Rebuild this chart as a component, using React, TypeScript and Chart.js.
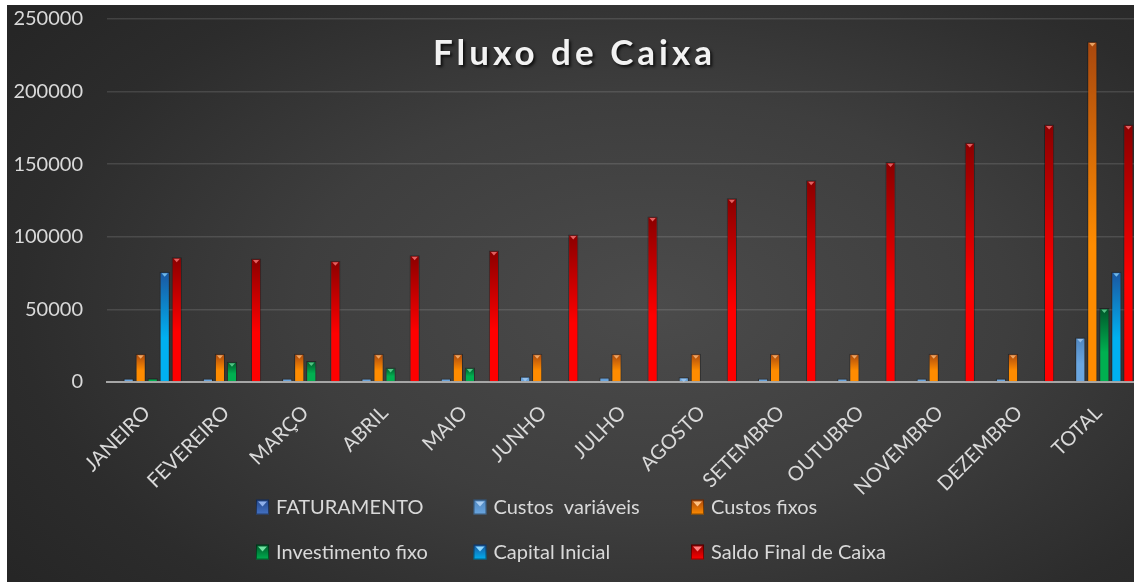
import React, { useEffect, useRef } from "react";
import { Chart, registerables } from "chart.js";

Chart.register(...registerables);

const chartTitle = "Fluxo de Caixa";

const categories = [
  "JANEIRO", "FEVEREIRO", "MARÇO", "ABRIL", "MAIO", "JUNHO", "JULHO",
  "AGOSTO", "SETEMBRO", "OUTUBRO", "NOVEMBRO", "DEZEMBRO", "TOTAL",
];

const seriesNames = [
  "FATURAMENTO", "Custos  variáveis", "Custos fixos",
  "Investimento fixo", "Capital Inicial", "Saldo Final de Caixa",
];

const faturamento = [0, 0, 0, 0, 0, 0, 0, 0, 0, 0, 0, 0, 0];
const custosVariaveis = [2400, 2400, 2400, 2400, 2400, 3800, 3100, 3300, 2400, 2400, 2400, 2400, 30700];
const custosFixos = [19500, 19500, 19500, 19500, 19500, 19500, 19500, 19500, 19500, 19500, 19500, 19500, 234500];
const investimentoFixo = [2500, 14000, 14500, 10000, 10000, null, null, null, null, null, null, null, 51000];
const capitalInicial = [76000, null, null, null, null, null, null, null, null, null, null, null, 76000];
const saldoFinal = [86000, 85000, 83500, 87300, 90500, 101500, 114000, 126500, 139000, 151500, 165000, 177400, 177400];

const yMin = 0;
const yMax = 250000;
const yStep = 50000;

// [top colour, bottom colour, bevel colour]
const palette: [string, string, string][] = [
  ["#24488a", "#4472c4", "#8fb0ea"],
  ["#4f86bf", "#6aa6e0", "#a9cdf2"],
  ["#a8470e", "#ff8c00", "#ffc080"],
  ["#00562a", "#00b050", "#6fe0a0"],
  ["#1b56a0", "#00b0f0", "#8fd8ff"],
  ["#8a0000", "#ff0000", "#ff8080"],
];

const seriesValues = [faturamento, custosVariaveis, custosFixos, investimentoFixo, capitalInicial, saldoFinal];

const gradFill = (top: string, bottom: string) => (ctx: any) => {
  if (ctx.type !== "data") return bottom;
  const chart = ctx.chart;
  const ys = chart.scales && chart.scales.y;
  const v = ctx.raw;
  if (!ys || v == null || v === 0) return bottom;
  const y0 = ys.getPixelForValue(0);
  const y1 = ys.getPixelForValue(v);
  if (!isFinite(y0) || !isFinite(y1) || y0 === y1) return bottom;
  const g = chart.ctx.createLinearGradient(0, y1, 0, y0);
  g.addColorStop(0, top);
  g.addColorStop(0.6, bottom);
  g.addColorStop(1, bottom);
  return g;
};

const decorPlugin = {
  id: "decor",
  afterDatasetsDraw(chart: any) {
    const ctx = chart.ctx;
    ctx.save();
    chart.data.datasets.forEach((ds: any, di: number) => {
      const meta = chart.getDatasetMeta(di);
      meta.data.forEach((bar: any) => {
        const h = bar.base - bar.y;
        if (!(h > 4)) return;
        const w = bar.width;
        ctx.fillStyle = palette[di][2];
        ctx.globalAlpha = 0.75;
        ctx.beginPath();
        ctx.moveTo(bar.x - w / 2 + 2, bar.y + 1.5);
        ctx.lineTo(bar.x + w / 2 - 2, bar.y + 1.5);
        ctx.lineTo(bar.x, bar.y + 5);
        ctx.closePath();
        ctx.fill();
      });
    });
    ctx.restore();
  },
  afterDraw(chart: any) {
    const ctx = chart.ctx;
    const cx = chart.width / 2;
    // Title
    ctx.save();
    ctx.font = "bold 35px Lato";
    (ctx as any).letterSpacing = "4px";
    ctx.textAlign = "center";
    ctx.textBaseline = "middle";
    ctx.shadowColor = "rgba(0,0,0,0.75)";
    ctx.shadowOffsetX = 2;
    ctx.shadowOffsetY = 2;
    ctx.shadowBlur = 3;
    ctx.fillStyle = "#f2f2f2";
    ctx.fillText(chartTitle, cx + 1, 49);
    ctx.restore();

    // Legend (3 columns x 2 rows)
    ctx.save();
    ctx.font = "20px Lato";
    ctx.textAlign = "left";
    ctx.textBaseline = "middle";
    const colW = 217.5;
    const x0 = cx - 317.5;
    const rowY = [502, 547];
    seriesNames.forEach((name, i) => {
      const col = i % 3;
      const row = Math.floor(i / 3);
      const bx = x0 + col * colW;
      const by = rowY[row] - 7.5;
      const g = ctx.createLinearGradient(0, by, 0, by + 15);
      g.addColorStop(0, palette[i][0]);
      g.addColorStop(1, palette[i][1]);
      ctx.fillStyle = g;
      ctx.fillRect(bx, by, 13, 15);
      ctx.strokeStyle = "rgba(0,0,0,0.45)";
      ctx.lineWidth = 1;
      ctx.strokeRect(bx + 0.5, by + 0.5, 12, 14);
      ctx.fillStyle = palette[i][2];
      ctx.beginPath();
      ctx.moveTo(bx + 2, by + 2);
      ctx.lineTo(bx + 11, by + 2);
      ctx.lineTo(bx + 6.5, by + 7);
      ctx.closePath();
      ctx.fill();
      ctx.fillStyle = "#d9d9d9";
      ctx.fillText(name, bx + 20, rowY[row] + 1);
    });
    ctx.restore();
  },
};

export default function App() {
  const canvasRef = useRef<HTMLCanvasElement | null>(null);

  useEffect(() => {
    if (!canvasRef.current) return;
    const datasets = seriesNames.map((name, i) => ({
      label: name,
      data: seriesValues[i],
      backgroundColor: gradFill(palette[i][0], palette[i][1]),
      borderColor: "rgba(0,0,0,0.35)",
      borderWidth: (c: any) => (c.raw ? 1 : 0),
      borderSkipped: "bottom",
      categoryPercentage: 0.91,
      barPercentage: 0.85,
    }));

    const chart = new Chart(canvasRef.current, {
      type: "bar",
      data: { labels: categories, datasets },
      options: {
        animation: false,
        responsive: false,
        layout: { padding: { left: 5, right: 2, top: 14, bottom: 0 } },
        plugins: {
          legend: { display: false },
          title: { display: false },
          tooltip: { enabled: false },
        },
        scales: {
          x: {
            grid: { display: false, drawTicks: false },
            border: { display: true, color: "#a6a6a6", width: 2 },
            ticks: {
              color: "#d9d9d9",
              font: { family: "Lato", size: 20 },
              minRotation: 45,
              maxRotation: 45,
              padding: 19,
              autoSkip: false,
            },
            afterFit: (s: any) => {
              s.height = 200;
              s.paddingTop = 0;
              s.paddingBottom = 0;
              s.paddingLeft = 0;
              s.paddingRight = 0;
            },
          },
          y: {
            min: yMin,
            max: yMax,
            ticks: {
              stepSize: yStep,
              color: "#d9d9d9",
              font: { family: "Lato", size: 20 },
              padding: 24,
              callback: (v: any) => String(v),
            },
            grid: { color: "rgba(255,255,255,0.12)", lineWidth: 1.5, drawTicks: false },
            border: { display: false },
            afterFit: (s: any) => {
              s.width = 95;
              s.paddingTop = 0;
              s.paddingBottom = 0;
            },
          },
        },
      },
      plugins: [decorPlugin],
    } as any);
    return () => chart.destroy();
  }, []);

  return (
    <div
      style={{
        position: "fixed",
        left: 0,
        top: 0,
        width: 1134,
        height: 582,
        overflow: "hidden",
        background: "#ffffff",
      }}
    >
      <div
        style={{
          position: "absolute",
          left: 7,
          top: 5,
          width: 1133,
          height: 577,
          background:
            "radial-gradient(ellipse 70% 80% at 57% 52%, #4b4b4b 0%, #3e3e3e 45%, #2c2c2c 80%, #262626 100%)",
        }}
      >
        <canvas ref={canvasRef} width={1133} height={577} style={{ display: "block" }} />
      </div>
    </div>
  );
}
